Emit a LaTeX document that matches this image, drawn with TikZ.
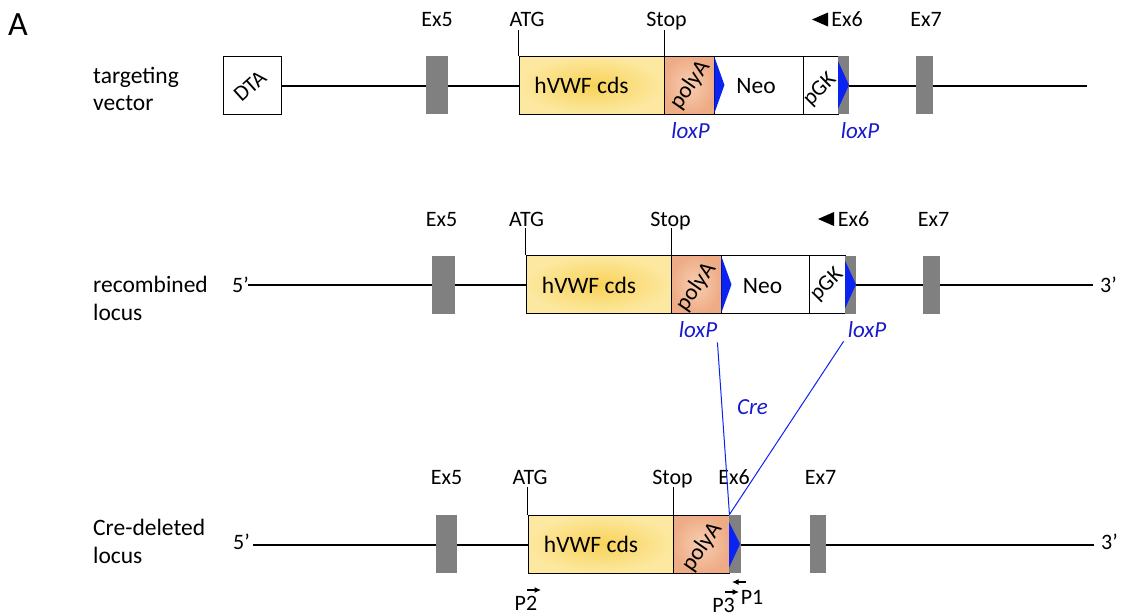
\documentclass[tikz,border=0pt]{standalone}
\usepackage{fontspec}
\setmainfont{Carlito}
\usetikzlibrary{arrows.meta,calc}
\definecolor{exgrey}{RGB}{128,128,128}
\definecolor{lox}{RGB}{10,35,240}
\definecolor{loxtxt}{RGB}{25,25,205}
\definecolor{cdsin}{RGB}{248,210,88}
\definecolor{cdsout}{RGB}{252,232,160}
\definecolor{pain}{RGB}{248,206,178}
\definecolor{paout}{RGB}{238,172,134}
\tikzset{
  backbone/.style={line width=2.6pt},
  exon/.style={fill=exgrey, draw=none, minimum width=22pt, minimum height=58pt, inner sep=0pt, outer sep=0pt},
  box/.style={draw=black, line width=0.9pt, fill=white, minimum height=58pt, inner sep=0pt},
  cdsbox/.style={box, shade, inner color=cdsin, outer color=cdsout},
  pabox/.style={box, shade, inner color=pain, outer color=paout},
  lbl/.style={anchor=base, inner sep=0pt, font=\fontsize{22}{26}\selectfont},
  boxtxt/.style={anchor=base, inner sep=0pt, font=\fontsize{23.5}{28}\selectfont},
  rowlbl/.style={anchor=base west, inner sep=0pt, font=\fontsize{23.5}{28}\selectfont},
  rottxt/.style={inner sep=0pt, font=\fontsize{22}{26}\selectfont},
  patxt/.style={inner sep=0pt, rotate=55, font=\fontsize{23}{27}\selectfont},
  loxlbl/.style={anchor=base, inner sep=0pt, text=loxtxt, font=\fontsize{23}{27}\selectfont\itshape},
  tick/.style={line width=0.8pt},
  loxtri/.style={fill=lox, draw=none},
  creline/.style={draw=lox, line width=1pt},
  primer/.style={line width=1.1pt, -{Latex[length=6.5pt,width=6pt]}}
}
\begin{document}
\begin{tikzpicture}[x=1pt,y=-1pt]
\useasboundingbox (0,0) rectangle (1121,614);
\node[anchor=base west, inner sep=0pt, font=\fontsize{34}{38}\selectfont] (A) at (8,35) {A};

% ---------------- Row 1: targeting vector ----------------
\node[rowlbl] (r1a) at (93,83) {targeting};
\node[rowlbl] (r1b) at (93,110) {vector};
\coordinate (e1) at (1087,86);
\node[box, minimum width=58pt] (dta) at (252,85) {};
\draw[backbone] (dta.east |- e1) -- (e1);
\node[rottxt, rotate=42] (dtat) at (250,86) {DTA};
\node[exon] (ex51) at (437,85) {};
\node[exon, minimum width=17pt] (ex71) at (924.5,85) {};
\node[cdsbox, minimum width=145pt] (cds1) at (591.5,85) {};
\node[pabox, minimum width=50pt] (pa1) at (689,85) {};
\node[box, minimum width=89pt] (neo1) at (758.5,85) {};
\node[box, minimum width=35pt] (pgk1) at (820.5,85) {};
\node[exon, minimum width=11pt] (g1) at (843.5,85) {};
\node[boxtxt] (cdst1) at (581.5,93) {hVWF cds};
\node[boxtxt] (neot1) at (756,93) {Neo};
\node[patxt] (pat1) at (690,85) {polyA};
\node[rottxt, rotate=45] (pgkt1) at (820,90) {pGK};
\fill[loxtri] ($(pa1.north east)+(0,1.5)$) -- ($(pa1.east)+(10,0)$) -- ($(pa1.south east)+(0,-1.5)$) -- cycle;
\fill[loxtri] ($(g1.north west)+(0,5)$) -- (g1.east) -- ($(g1.south west)+(0,-5)$) -- cycle;
\draw[tick] (cds1.north west) -- ++(0,-26);
\draw[tick] (cds1.north east) -- ++(0,-26);
\node[lbl] (l51) at (437,26) {Ex5};
\node[lbl] (atg1) at (527,26) {ATG};
\node[lbl] (stop1) at (666.5,26) {Stop};
\node[lbl] (l61) at (847,26) {Ex6};
\fill (812,19.5) -- (828,12.5) -- (828,26.5) -- cycle;
\node[lbl] (l71) at (926,26) {Ex7};
\node[loxlbl] (lx1a) at (690.5,138) {loxP};
\node[loxlbl] (lx1b) at (860,138) {loxP};

% ---------------- Row 2: recombined locus ----------------
\node[rowlbl] (r2a) at (93,292) {recombined};
\node[rowlbl] (r2b) at (93,320) {locus};
\node[anchor=base west, inner sep=0pt, font=\fontsize{22}{26}\selectfont] (f2) at (232,292) {5’};
\node[anchor=base west, inner sep=0pt, font=\fontsize{22}{26}\selectfont] (t2) at (1100,292) {3’};
\coordinate (s2) at (248,285);
\coordinate (e2) at (1093,285);
\draw[backbone] (s2) -- (e2);
\node[exon, minimum width=23pt] (ex52) at (443.5,284.5) {};
\node[exon, minimum width=17pt] (ex72) at (931.5,284.5) {};
\node[cdsbox, minimum width=145pt] (cds2) at (598.5,284.5) {};
\node[pabox, minimum width=50pt] (pa2) at (696,284.5) {};
\node[box, minimum width=88pt] (neo2) at (765,284.5) {};
\node[box, minimum width=36pt] (pgk2) at (827,284.5) {};
\node[exon, minimum width=11pt] (g2) at (850.5,284.5) {};
\node[boxtxt] (cdst2) at (589,293) {hVWF cds};
\node[boxtxt] (neot2) at (762.5,293) {Neo};
\node[patxt] (pat2) at (696,287) {polyA};
\node[rottxt, rotate=45] (pgkt2) at (827,285) {pGK};
\fill[loxtri] ($(pa2.north east)+(0,1.5)$) -- ($(pa2.east)+(10,0)$) -- ($(pa2.south east)+(0,-1.5)$) -- cycle;
\fill[loxtri] ($(g2.north west)+(0,5)$) -- (g2.east) -- ($(g2.south west)+(0,-5)$) -- cycle;
\draw[tick] (cds2.north west) -- ++(0,-27);
\draw[tick] (cds2.north east) -- ++(0,-27);
\node[lbl] (l52) at (441.5,226) {Ex5};
\node[lbl] (atg2) at (526.5,226) {ATG};
\node[lbl] (stop2) at (670.5,226) {Stop};
\node[lbl] (l62) at (853.5,226) {Ex6};
\fill (818,219) -- (834,212) -- (834,226) -- cycle;
\node[lbl] (l72) at (933.5,226) {Ex7};
\node[loxlbl] (lx2a) at (698,337) {loxP};
\node[loxlbl] (lx2b) at (867,337) {loxP};

% ---------------- Row 3: Cre-deleted locus ----------------
\node[rowlbl] (r3a) at (93,535) {Cre-deleted};
\node[rowlbl] (r3b) at (93,563) {locus};
\node[anchor=base west, inner sep=0pt, font=\fontsize{22}{26}\selectfont] (f3) at (233,549) {5’};
\node[anchor=base west, inner sep=0pt, font=\fontsize{22}{26}\selectfont] (t3) at (1101,549) {3’};
\coordinate (s3) at (253,545);
\coordinate (e3) at (1094,545);
\draw[backbone] (s3) -- (e3);
\node[exon, minimum width=21pt] (ex53) at (446.5,544) {};
\node[exon, minimum width=16pt] (ex73) at (818,544) {};
\node[cdsbox, minimum width=145pt] (cds3) at (600.5,544) {};
\node[pabox, minimum width=56pt] (pa3) at (701,544) {};
\node[exon, minimum width=12pt] (g3) at (735,544) {};
\node[boxtxt] (cdst3) at (591,552) {hVWF cds};
\node[patxt] (pat3) at (702,547) {polyA};
\fill[loxtri] ($(g3.north west)+(0,7)$) -- ($(g3.east)+(-1,0)$) -- ($(g3.south west)+(0,-5)$) -- cycle;
\draw[tick] (cds3.north west) -- ++(0,-28);
\draw[tick] (cds3.north east) -- ++(0,-28);
\node[lbl] (l53) at (446.5,484) {Ex5};
\node[lbl] (atg3) at (530,484) {ATG};
\node[lbl] (stop3) at (672.5,484) {Stop};
\node[lbl] (l63) at (734,484) {Ex6};
\node[lbl] (l73) at (820.5,484) {Ex7};

% Cre recombination lines
\draw[creline] ($(lx2a.south east)+(0,5)$) -- (pa3.north east);
\draw[creline] ($(lx2b.south west)+(-4,4)$) -- (pa3.north east);
\node[loxlbl] (cre) at (752.5,414) {Cre};

% primers
\node[lbl] (p2) at (526,610) {P2};
\node[lbl] (p3) at (723.5,612) {P3};
\node[lbl] (p1) at (752,604) {P1};
\coordinate (p2a) at (527,590);
\coordinate (p2b) at (541,590);
\coordinate (p3a) at (725,592);
\coordinate (p3b) at (739,592);
\coordinate (p1a) at (746,582);
\coordinate (p1b) at (732,582);
\draw[primer] (p2a) -- (p2b);
\draw[primer] (p3a) -- (p3b);
\draw[primer] (p1a) -- (p1b);
\end{tikzpicture}
\end{document}
